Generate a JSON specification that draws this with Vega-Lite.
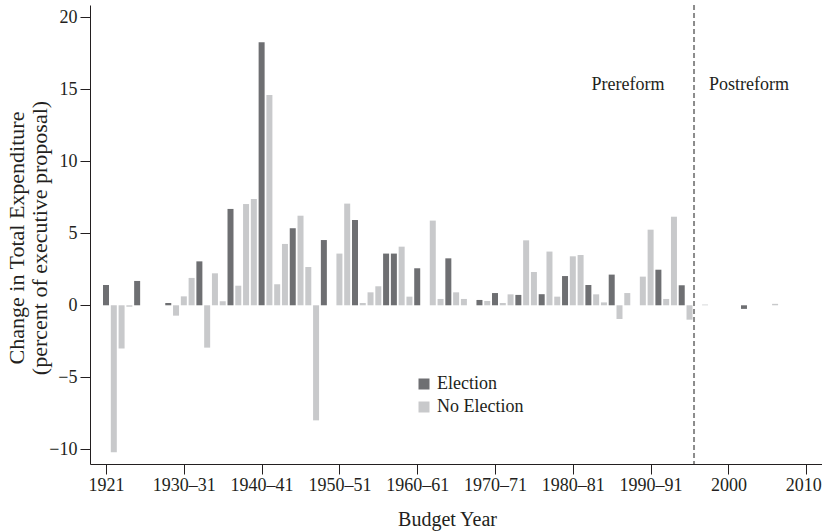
{
  "$schema": "https://vega.github.io/schema/vega-lite/v6.json",
  "autosize": "none",
  "width": 732,
  "height": 459,
  "padding": {"left": 90, "top": 5, "right": 0, "bottom": 67},
  "background": "white",
  "datasets": {
    "bars": [
      {"year": 1921, "value": 1.41, "type": "Election"},
      {"year": 1922, "value": -10.2, "type": "No Election"},
      {"year": 1923, "value": -3.0, "type": "No Election"},
      {"year": 1924, "value": -0.1, "type": "No Election"},
      {"year": 1925, "value": 1.69, "type": "Election"},
      {"year": 1929, "value": 0.16, "type": "Election"},
      {"year": 1930, "value": -0.72, "type": "No Election"},
      {"year": 1931, "value": 0.62, "type": "No Election"},
      {"year": 1932, "value": 1.9, "type": "No Election"},
      {"year": 1933, "value": 3.05, "type": "Election"},
      {"year": 1934, "value": -2.94, "type": "No Election"},
      {"year": 1935, "value": 2.22, "type": "No Election"},
      {"year": 1936, "value": 0.28, "type": "No Election"},
      {"year": 1937, "value": 6.69, "type": "Election"},
      {"year": 1938, "value": 1.36, "type": "No Election"},
      {"year": 1939, "value": 7.03, "type": "No Election"},
      {"year": 1940, "value": 7.38, "type": "No Election"},
      {"year": 1941, "value": 18.26, "type": "Election"},
      {"year": 1942, "value": 14.6, "type": "No Election"},
      {"year": 1943, "value": 1.46, "type": "No Election"},
      {"year": 1944, "value": 4.26, "type": "No Election"},
      {"year": 1945, "value": 5.35, "type": "Election"},
      {"year": 1946, "value": 6.22, "type": "No Election"},
      {"year": 1947, "value": 2.66, "type": "No Election"},
      {"year": 1948, "value": -7.99, "type": "No Election"},
      {"year": 1949, "value": 4.53, "type": "Election"},
      {"year": 1951, "value": 3.59, "type": "No Election"},
      {"year": 1952, "value": 7.06, "type": "No Election"},
      {"year": 1953, "value": 5.92, "type": "Election"},
      {"year": 1954, "value": 0.16, "type": "No Election"},
      {"year": 1955, "value": 0.9, "type": "No Election"},
      {"year": 1956, "value": 1.32, "type": "No Election"},
      {"year": 1957, "value": 3.59, "type": "Election"},
      {"year": 1958, "value": 3.59, "type": "Election"},
      {"year": 1959, "value": 4.07, "type": "No Election"},
      {"year": 1960, "value": 0.6, "type": "No Election"},
      {"year": 1961, "value": 2.57, "type": "Election"},
      {"year": 1963, "value": 5.88, "type": "No Election"},
      {"year": 1964, "value": 0.44, "type": "No Election"},
      {"year": 1965, "value": 3.26, "type": "Election"},
      {"year": 1966, "value": 0.9, "type": "No Election"},
      {"year": 1967, "value": 0.44, "type": "No Election"},
      {"year": 1969, "value": 0.37, "type": "Election"},
      {"year": 1970, "value": 0.3, "type": "No Election"},
      {"year": 1971, "value": 0.85, "type": "Election"},
      {"year": 1972, "value": 0.16, "type": "No Election"},
      {"year": 1973, "value": 0.76, "type": "No Election"},
      {"year": 1974, "value": 0.72, "type": "Election"},
      {"year": 1975, "value": 4.51, "type": "No Election"},
      {"year": 1976, "value": 2.31, "type": "No Election"},
      {"year": 1977, "value": 0.77, "type": "Election"},
      {"year": 1978, "value": 3.73, "type": "No Election"},
      {"year": 1979, "value": 0.6, "type": "No Election"},
      {"year": 1980, "value": 2.03, "type": "Election"},
      {"year": 1981, "value": 3.4, "type": "No Election"},
      {"year": 1982, "value": 3.49, "type": "No Election"},
      {"year": 1983, "value": 1.41, "type": "Election"},
      {"year": 1984, "value": 0.76, "type": "No Election"},
      {"year": 1985, "value": 0.2, "type": "No Election"},
      {"year": 1986, "value": 2.13, "type": "Election"},
      {"year": 1987, "value": -0.95, "type": "No Election"},
      {"year": 1988, "value": 0.85, "type": "No Election"},
      {"year": 1990, "value": 1.99, "type": "No Election"},
      {"year": 1991, "value": 5.25, "type": "No Election"},
      {"year": 1992, "value": 2.47, "type": "Election"},
      {"year": 1993, "value": 0.44, "type": "No Election"},
      {"year": 1994, "value": 6.15, "type": "No Election"},
      {"year": 1995, "value": 1.39, "type": "Election"},
      {"year": 1996, "value": -1.0, "type": "No Election"},
      {"year": 1998, "value": 0.05, "type": "No Election"},
      {"year": 2003, "value": -0.25, "type": "Election"},
      {"year": 2007, "value": 0.1, "type": "No Election"}
    ],
    "reform": [{"year": 1996.58}],
    "labels": [
      {"year": 1988.1, "value": 14.95, "text": "Prereform"},
      {"year": 2003.65, "value": 14.95, "text": "Postreform"}
    ]
  },
  "layer": [
    {
      "data": {"name": "bars"},
      "mark": {"type": "bar", "width": 6},
      "encoding": {
        "x": {
          "field": "year",
          "type": "quantitative",
          "scale": {"domain": [1918.94, 2013.03], "nice": false, "zero": false, "padding": 0},
          "axis": {
            "title": "Budget Year",
            "titleFontSize": 20,
            "values": [1921, 1931, 1941, 1951, 1961, 1971, 1981, 1991, 2001, 2011],
            "format": "d",
            "labelExpr": "{'1921':'1921','1931':'1930–31','1941':'1940–41','1951':'1950–51','1961':'1960–61','1971':'1970–71','1981':'1980–81','1991':'1990–91','2001':'2000','2011':'2010'}[datum.label]",
            "labelOffset": {"condition": {"test": "datum.value == 2011", "value": -3}, "value": 0},
            "tickSize": 10,
            "labelPadding": 2,
            "titlePadding": 15,
            "titleX": 357
          }
        },
        "y": {
          "field": "value",
          "type": "quantitative",
          "scale": {"domain": [-11.02, 20.85], "nice": false, "zero": false, "padding": 0},
          "axis": {
            "title": ["Change in Total Expenditure", "(percent of executive proposal)"],
            "titleFontSize": 22,
            "values": [-10, -5, 0, 5, 10, 15, 20],
            "tickSize": 10,
            "labelPadding": 3,
            "titleX": -74,
            "titleY": 232.5,
            "titleAngle": -90,
            "titleBaseline": "middle",
            "titleAlign": "center",
            "titleLineHeight": 23
          }
        },
        "color": {
          "field": "type",
          "type": "nominal",
          "scale": {"domain": ["Election", "No Election"], "range": ["#6e6f72", "#c8c9cb"]},
          "legend": {
            "title": null,
            "orient": "none",
            "legendX": 325,
            "legendY": 370,
            "symbolType": "square",
            "symbolSize": 121,
            "symbolStrokeWidth": 0,
            "labelFont": "Liberation Serif",
            "labelFontSize": 18,
            "labelColor": "#231f20",
            "labelOffset": 4,
            "rowPadding": 5,
            "padding": 0
          }
        }
      }
    },
    {
      "data": {"name": "reform"},
      "mark": {"type": "rule", "color": "#8c8c8c", "strokeWidth": 2, "strokeDash": [5, 3]},
      "encoding": {
        "x": {"field": "year", "type": "quantitative"}
      }
    },
    {
      "data": {"name": "labels"},
      "mark": {"type": "text", "font": "Liberation Serif", "fontSize": 18, "color": "#231f20", "align": "center", "baseline": "alphabetic"},
      "encoding": {
        "x": {"field": "year", "type": "quantitative"},
        "y": {"field": "value", "type": "quantitative"},
        "text": {"field": "text"}
      }
    }
  ],
  "config": {
    "view": {"stroke": null},
    "axis": {
      "grid": false,
      "domainColor": "#231f20",
      "tickColor": "#231f20",
      "labelColor": "#231f20",
      "titleColor": "#231f20",
      "labelFont": "Liberation Serif",
      "titleFont": "Liberation Serif",
      "labelFontSize": 18,
      "titleFontSize": 18,
      "titleFontWeight": "normal",
      "domainWidth": 1,
      "tickWidth": 1
    }
  }
}
